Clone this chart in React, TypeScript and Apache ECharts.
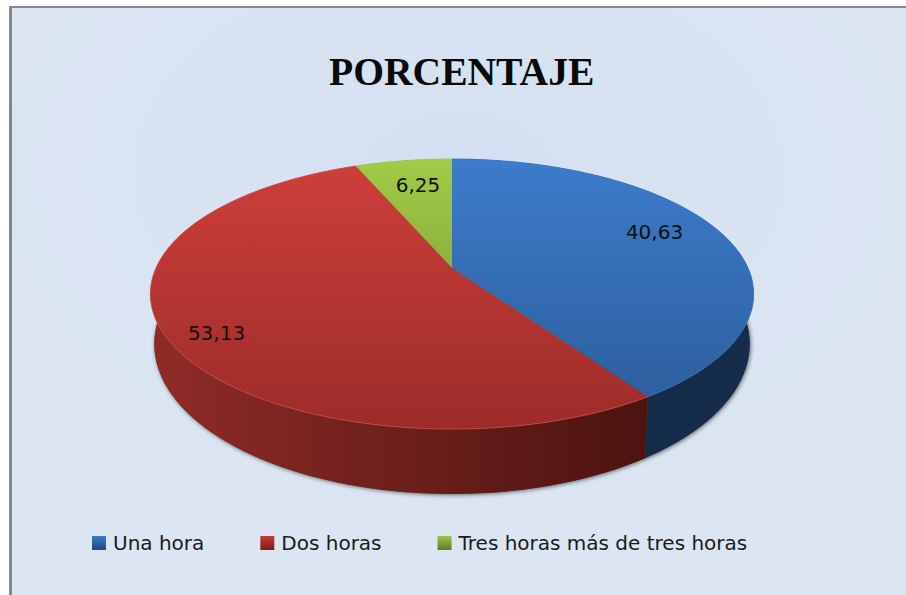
import React, { useEffect, useRef } from "react";
import * as echarts from "echarts";

const chartTitle = "PORCENTAJE";
const categories = ["Una hora", "Dos horas", "Tres horas más de tres horas"];
const percentages = [40.63, 53.13, 6.25];
const labels = ["40,63", "53,13", "6,25"];

const FONT = "'DejaVu Sans', sans-serif";
const topStops = [
  ["#3c7cca", "#2c5b99"],
  ["#ce3f3b", "#9c2c29"],
  ["#a2cb47", "#6f8c30"],
];
const wallStops = [
  ["#11253e", "#152d4b"],
  ["#8f2b27", "#3d0e0b"],
  ["#5e7526", "#5e7526"],
];
const edgeColors = ["#3c78c4", "#d2504a", "#a2cb47"];
const labelAnchors = [
  [654.5, 232],
  [216.5, 333],
  [418, 185],
];

// Perspective projection of the pie disc
const CX = 452;
const K = 296;
const C = -0.1926;
const A = 78.4;
const B = 268;
const LOWER_SCALE_X = 0.987;
const LOWER_SCALE_Y = 1.111;
const TOP_MID_Y = 294;
const LOWER_MID_Y = 344;

const total = percentages.reduce((a, b) => a + b, 0);
const startOf = (i: number) =>
  (percentages.slice(0, i).reduce((a, b) => a + b, 0) / total) * Math.PI * 2;

const project = (u: number, v: number): [number, number] => {
  const d = 1 + C * v;
  return [CX + (K * u) / d, (A * v + B) / d];
};
const rim = (t: number) => project(Math.sin(t), -Math.cos(t));
const lower = ([x, y]: [number, number]): [number, number] => [
  CX + (x - CX) * LOWER_SCALE_X,
  LOWER_MID_Y + (y - TOP_MID_Y) * LOWER_SCALE_Y,
];
const arc = (a: number, b: number) => {
  const n = Math.max(2, Math.ceil(((b - a) / (Math.PI * 2)) * 240));
  const out: [number, number][] = [];
  for (let i = 0; i <= n; i++) out.push(rim(a + ((b - a) * i) / n));
  return out;
};
const G = echarts.graphic;
const vGrad = (c: string[]) =>
  new G.LinearGradient(0, 159, 0, 429, [
    { offset: 0, color: c[0] },
    { offset: 1, color: c[1] },
  ], true);
const hGrad = (c: string[]) =>
  new G.LinearGradient(150, 0, 755, 0, [
    { offset: 0, color: c[0] },
    { offset: 1, color: c[1] },
  ], true);

const renderWall = (params: any, api: any) => {
  const i = params.dataIndex;
  const a = startOf(i);
  const b = a + (api.value(0) / total) * Math.PI * 2;
  const top = arc(a, b);
  const bottom = top.map(lower).reverse();
  const children: any[] = [];
  if (i === 0) {
    children.push({
      type: "polygon",
      shape: { points: arc(0, Math.PI * 2).map(lower) },
      style: {
        fill: "#555",
        shadowColor: "rgba(0,0,0,0.55)",
        shadowBlur: 4,
        shadowOffsetX: 1,
        shadowOffsetY: 1,
      },
    });
  }
  children.push({
    type: "polygon",
    shape: { points: [...top, ...bottom] },
    style: { fill: hGrad(wallStops[i]), stroke: null },
  });
  return { type: "group", children };
};

const makeRenderTop = (i: number) => (_params: any, api: any) => {
  const a = startOf(i);
  const b = a + (api.value(0) / total) * Math.PI * 2;
  const edge = arc(a, b);
  const [ax, ay] = labelAnchors[i];
  return {
    type: "group",
    children: [
      {
        type: "polygon",
        shape: { points: [project(0, 0), ...edge] },
        style: { fill: vGrad(topStops[i]) },
      },
      {
        type: "polyline",
        shape: { points: edge },
        style: { stroke: edgeColors[i], lineWidth: 1, fill: null, opacity: 0.8 },
      },
      {
        type: "text",
        x: ax,
        y: ay,
        style: {
          text: labels[i],
          fill: "#111",
          font: `20px ${FONT}`,
          align: "center",
          verticalAlign: "middle",
        },
      },
    ],
  };
};

const legendColors = ["#3f7cc8", "#c63a36", "#9fc644"];
const legendDark = ["#234878", "#7a201d", "#5f7a28"];

export default function App() {
  const ref = useRef<HTMLDivElement>(null);
  useEffect(() => {
    document.body.style.margin = "0";
    const chart = echarts.init(ref.current!, null, { renderer: "svg" });
    chart.setOption({
      animation: false,
      backgroundColor: "#ffffff",
      title: {
        text: chartTitle,
        left: 329,
        top: 52,
        padding: 0,
        textStyle: {
          fontFamily: "'Liberation Serif', serif",
          fontWeight: "bold",
          fontSize: 39.6,
          color: "#0a0a0a",
        },
      },
      legend: {
        left: 92,
        top: 533,
        padding: 0,
        itemGap: 56,
        itemWidth: 14,
        itemHeight: 14,
        icon: "rect",
        textStyle: { fontFamily: FONT, fontSize: 20, color: "#1a1a1a", padding: [0, 0, 0, 2] },
        data: categories.map((name, i) => ({
          name,
          itemStyle: {
            color: new G.LinearGradient(0, 0, 0, 1, [
              { offset: 0, color: legendColors[i] },
              { offset: 1, color: legendDark[i] },
            ]),
          },
        })),
      },
      graphic: [
        {
          type: "rect",
          z: -2,
          shape: { x: 9, y: 6, width: 897, height: 589 },
          style: { fill: "#868686" },
        },
        {
          type: "rect",
          z: -1,
          shape: { x: 12, y: 8, width: 894, height: 587 },
          style: {
            fill: new G.RadialGradient(0.5, 0.28, 0.62, [
              { offset: 0, color: "#d3e0f1" },
              { offset: 0.55, color: "#d9e4f2" },
              { offset: 1, color: "#dce6f2" },
            ]),
          },
        },
      ],
      series: [
        {
          type: "custom",
          name: "lados",
          coordinateSystem: "none",
          z: 2,
          silent: true,
          renderItem: renderWall,
          data: percentages.map((v) => [v]),
        },
        ...categories.map((name, i) => ({
          type: "custom",
          name,
          coordinateSystem: "none",
          z: 3,
          silent: true,
          renderItem: makeRenderTop(i),
          data: [[percentages[i]]],
        })),
      ],
    });
    return () => chart.dispose();
  }, []);
  return <div ref={ref} style={{ width: 906, height: 595 }} />;
}
